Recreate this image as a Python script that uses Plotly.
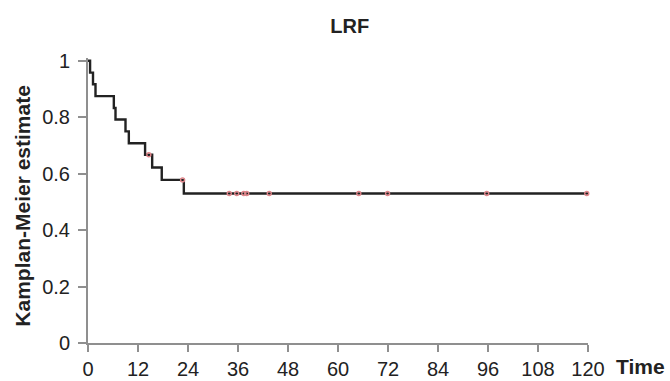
import plotly.graph_objects as go

# Kaplan-Meier step curve (months, survival estimate)
step_times = [0, 0.5, 1.2, 1.8, 6.2, 6.6, 9.0, 9.8, 13.7, 15.4, 17.7, 23.0, 120]
step_surv = [1.0, 0.958, 0.917, 0.875, 0.833, 0.792, 0.750, 0.708, 0.667, 0.622, 0.578, 0.530, 0.530]

# Censored observations
censor_times = [14.6, 22.7, 33.9, 35.7, 37.4, 38.1, 43.5, 65.0, 71.9, 95.7, 119.7]
censor_surv = [0.667, 0.578, 0.530, 0.530, 0.530, 0.530, 0.530, 0.530, 0.530, 0.530, 0.530]

x_ticks = [0, 12, 24, 36, 48, 60, 72, 84, 96, 108, 120]
y_ticks = [0, 0.2, 0.4, 0.6, 0.8, 1]
y_tick_labels = ["0", "0.2", "0.4", "0.6", "0.8", "1"]

FONT = "Liberation Sans, Arial, Helvetica, sans-serif"
AXIS_GRAY = "#8f8f8f"

fig = go.Figure()
fig.add_trace(go.Scatter(
    x=step_times, y=step_surv, mode="lines",
    line=dict(shape="hv", color="#222222", width=2.4),
    hoverinfo="skip", showlegend=False,
))
fig.add_trace(go.Scatter(
    x=censor_times, y=censor_surv, mode="markers",
    marker=dict(symbol="circle-open", size=4, color="#e0858a", line=dict(width=1.4, color="#e0858a")),
    cliponaxis=False, showlegend=False,
))

fig.update_layout(
    width=670, height=381,
    margin=dict(l=88, r=82, t=58, b=38),
    paper_bgcolor="white", plot_bgcolor="white",
    font=dict(family=FONT, color="#222222", size=20),
    title=dict(text="<b>LRF</b>", x=0.522, xanchor="center", y=0.932, yanchor="middle",
               font=dict(family=FONT, size=20, color="#222222")),
    xaxis=dict(
        range=[0, 120], tickmode="array", tickvals=x_ticks,
        ticktext=[str(v) for v in x_ticks],
        showline=True, linecolor=AXIS_GRAY, linewidth=2,
        ticks="outside", ticklen=7, tickwidth=2, tickcolor=AXIS_GRAY,
        showgrid=False, zeroline=False, tickfont=dict(size=20),
        ticklabelstandoff=0, automargin=False,
    ),
    yaxis=dict(
        range=[0, 1.01], tickmode="array", tickvals=y_ticks, ticktext=y_tick_labels,
        showline=True, linecolor=AXIS_GRAY, linewidth=2,
        ticks="outside", ticklen=8, tickwidth=2, tickcolor=AXIS_GRAY,
        showgrid=False, zeroline=False, tickfont=dict(size=20),
        ticklabelstandoff=4, automargin=False,
    ),
    annotations=[
        dict(text="<b>Kamplan-Meier estimate</b>", textangle=-90,
             xref="paper", yref="paper", x=-0.131, y=0.48,
             xanchor="center", yanchor="middle", showarrow=False,
             font=dict(family=FONT, size=21, color="#222222")),
        dict(text="<b>Time</b>", xref="paper", yref="paper", x=1.052, y=-0.082,
             xanchor="left", yanchor="middle", showarrow=False,
             font=dict(family=FONT, size=21, color="#222222")),
    ],
)

fig.write_html("out.html")
